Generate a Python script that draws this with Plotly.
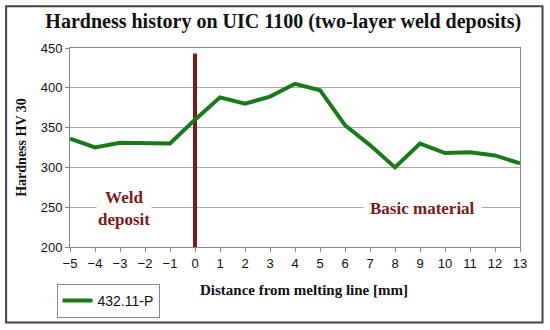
import plotly.graph_objects as go

distance = [-5, -4, -3, -2, -1, 0, 1, 2, 3, 4, 5, 6, 7, 8, 9, 10, 11, 12, 13]
hardness = [336, 325, 331, 331, 330, 360, 388, 380, 389, 405, 397, 353, 328, 300, 330, 318, 319, 315, 305]
series_name = '432.11-P'
melt_line_x = [0, 0]
melt_line_y = [200, 443]

serif = 'Liberation Serif'
sans = 'Liberation Sans'
dark_red = '#7a1a1c'

fig = go.Figure()

fig.add_trace(go.Scatter(
    x=melt_line_x, y=melt_line_y, mode='lines',
    line=dict(color=dark_red, width=4),
    showlegend=False, hoverinfo='skip'
))

fig.add_trace(go.Scatter(
    x=distance, y=hardness, mode='lines', name=series_name,
    line=dict(color='#1a7a1a', width=4)
))

fig.update_layout(
    width=550, height=330,
    margin=dict(l=70, r=30, t=48, b=83, autoexpand=False),
    paper_bgcolor='white', plot_bgcolor='white',
    title=dict(
        text='<b>Hardness history on UIC 1100 (two-layer weld deposits)</b>',
        x=0.515, xanchor='center', y=0.935, yanchor='middle',
        font=dict(family=serif, size=20, color='#111')
    ),
    showlegend=True,
    legend=dict(
        x=-0.03, y=-0.185, xanchor='left', yanchor='top',
        bordercolor='#888', borderwidth=1, bgcolor='white',
        font=dict(family=sans, size=14, color='#111'),
        itemwidth=30
    ),
    xaxis=dict(
        range=[-5, 13], tickmode='linear', dtick=1, tick0=-5,
        showgrid=False, zeroline=False,
        showline=True, linecolor='#888', mirror=True, linewidth=1,
        ticks='outside', ticklen=4, tickcolor='#888',
        tickfont=dict(family=sans, size=13, color='#111')
    ),
    yaxis=dict(
        range=[200, 450], dtick=50,
        showgrid=True, gridcolor='#aaa', gridwidth=1, zeroline=False,
        showline=True, linecolor='#888', mirror=True, linewidth=1,
        ticks='outside', ticklen=4, tickcolor='#888',
        tickfont=dict(family=sans, size=13, color='#111'),
        title=dict(text='<b>Hardness HV 30</b>', standoff=10,
                   font=dict(family=serif, size=14, color='#111'))
    ),
    annotations=[
        dict(x=0.52, y=-0.265, xref='paper', yref='paper', showarrow=False,
             text='<b>Distance from melting line [mm]</b>',
             font=dict(family=serif, size=15, color='#111')),
        dict(x=-2.85, y=248, xref='x', yref='y', showarrow=False,
             text='<b>Weld<br>deposit</b>', bgcolor='white',
             font=dict(family=serif, size=17, color=dark_red)),
        dict(x=9.1, y=249, xref='x', yref='y', showarrow=False,
             text='<b>Basic material</b>', bgcolor='white', borderpad=6,
             font=dict(family=serif, size=17, color=dark_red)),
    ],
    shapes=[
        dict(type='rect', xref='paper', yref='paper',
             x0=-0.142, x1=1.05, y0=-0.379, y1=1.21,
             line=dict(color='#444', width=2))
    ]
)

fig.write_html('out.html', config={'displayModeBar': False},
               post_script="document.body.style.margin='0';")
